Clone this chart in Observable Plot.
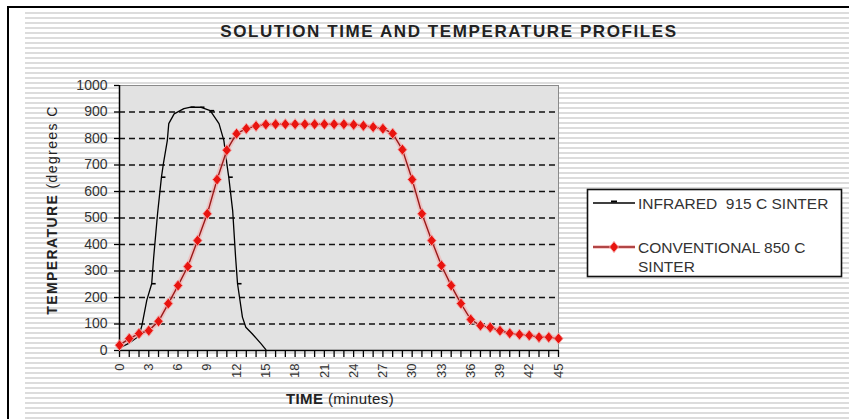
<!DOCTYPE html>
<html>
<head>
<meta charset="utf-8">
<script src="https://cdn.jsdelivr.net/npm/d3@7"></script>
<script src="https://cdn.jsdelivr.net/npm/@observablehq/plot@0.6"></script>
<style>
  html, body { margin: 0; padding: 0; background: #fff; }
  #wrap { position: relative; width: 849px; height: 419px; background: #fff; overflow: hidden; }
  #stripes { position: absolute; left: 25px; top: 9px; right: 0; bottom: 0;
    background: repeating-linear-gradient(to bottom, #ffffff 0px, #ffffff 3px, #dcdcdc 3px, #dcdcdc 5px); }
  #wrap svg { position: absolute; left: 0; top: 0; }
</style>
</head>
<body>
<div id="wrap"><div id="stripes"></div></div>
<script>
// ---- data ----
const conventionalTime = [0,1,2,3,4,5,6,7,8,9,10,11,12,13,14,15,16,17,18,19,20,21,22,23,24,25,26,27,28,29,30,31,32,33,34,35,36,37,38,39,40,41,42,43,44,45];
const conventionalTemp = [20,45,64,75,110,177,245,317,415,516,645,756,818,837,847,853,854,854,854,854,854,854,854,854,852,848,843,837,819,758,645,516,415,321,245,177,117,94,87,75,65,60,57,50,50,45];

const infraredTime = [0,1,2,2.3,2.8,3.3,3.5,3.9,4.3,4.5,4.9,5.05,5.6,6.6,7.3,8.3,9.3,10.2,10.7,11.05,11.2,11.6,11.9,12.1,12.6,12.95,13.6,14.5,15];
const infraredTemp = [10,28,55,95,190,252,350,516,654,705,792,856,893,913,918,918,905,856,792,692,654,528,352,252,126,88,63,26,3];
const infraredMarkerTime = [3.3,4.3,7.3,8.3,9.3,11.2,12.1];
const infraredMarkerTemp = [252,654,918,918,905,654,252];

const xTickMinutes = [0,1,2,3,4,5,6,7,8,9,10,11,12,13,14,15,16,17,18,19,20,21,22,23,24,25,26,27,28,29,30,31,32,33,34,35,36,37,38,39,40,41,42,43,44,45];
const xTickLabels = [0,3,6,9,12,15,18,21,24,27,30,33,36,39,42,45];
const yTickLabels = [0,100,200,300,400,500,600,700,800,900,1000];
const yGridValues = [100,200,300,400,500,600,700,800,900];

const chartTitle = "SOLUTION TIME AND TEMPERATURE PROFILES";
const seriesNames = ["INFRARED  915 C SINTER", "CONVENTIONAL 850 C", "SINTER"];

// ---- tables ----
const conventional = conventionalTime.map((t, i) => ({t, v: conventionalTemp[i]}));
const infrared = infraredTime.map((t, i) => ({t, v: infraredTemp[i]}));
const infraredMarkers = infraredMarkerTime.map((t, i) => ({t, v: infraredMarkerTemp[i]}));

const diamondSym = { draw(ctx) { ctx.moveTo(0, -5.5); ctx.lineTo(4.5, 0); ctx.lineTo(0, 5.5); ctx.lineTo(-4.5, 0); ctx.closePath(); } };
const dashSym = { draw(ctx) { ctx.moveTo(0, 0); ctx.lineTo(4, 0); } };

const font = "'Liberation Sans', Arial, sans-serif";

const chart = Plot.plot({
  width: 849, height: 419,
  marginLeft: 119, marginRight: 291, marginTop: 85, marginBottom: 69,
  x: { domain: [0, 45] },
  y: { domain: [0, 1000] },
  style: { background: "transparent", fontFamily: font, color: "#222", overflow: "visible" },
  marks: [
    Plot.frame({ fill: "#e2e2e2", stroke: "#8a8a8a", strokeWidth: 1 }),
    Plot.ruleY(yGridValues, { stroke: "#111", strokeWidth: 1.3, strokeDasharray: "6,4" }),
    Plot.axisX(xTickMinutes, { tickSize: 7, tickFormat: () => "", stroke: "#000", strokeWidth: 1.3, label: null }),
    Plot.axisX(xTickLabels, { tickSize: 0, tickPadding: 13, tickRotate: -90, fontSize: 13, fill: "#333", label: null, tickFormat: d3.format("d") }),
    Plot.axisY(yTickLabels, { tickSize: 5, tickPadding: 7, fontSize: 14, fill: "#333", stroke: "#000", strokeWidth: 1.3, label: null, letterSpacing: 0.6, tickFormat: d3.format("d") }),
    Plot.ruleX([0], { stroke: "#000", strokeWidth: 1.5 }),
    Plot.ruleY([0], { stroke: "#000", strokeWidth: 1.5 }),
    Plot.line(infrared, { x: "t", y: "v", stroke: "#000", strokeWidth: 1.3 }),
    Plot.dot(infraredMarkers, { x: "t", y: "v", symbol: dashSym, stroke: "#000", strokeWidth: 1.6, fill: "none" }),
    Plot.line(conventional, { x: "t", y: "v", stroke: "#f2b4b4", strokeWidth: 5, strokeOpacity: 0.7 }),
    Plot.line(conventional, { x: "t", y: "v", stroke: "#9a1a1a", strokeWidth: 1.4 }),
    Plot.dot(conventional, { x: "t", y: "v", symbol: diamondSym, fill: "#e8140f", stroke: "#f6a0a0", strokeWidth: 1 })
  ]
});
document.getElementById("wrap").appendChild(chart);

// ---- overlay: frame, titles, legend ----
const ov = d3.select("#wrap").append("svg").attr("width", 849).attr("height", 419)
  .style("font-family", font);

ov.append("line").attr("x1", 8).attr("x2", 8).attr("y1", 6).attr("y2", 419).attr("stroke", "#000").attr("stroke-width", 2);
ov.append("line").attr("x1", 7).attr("x2", 849).attr("y1", 7).attr("y2", 7).attr("stroke", "#000").attr("stroke-width", 2);

ov.append("text").attr("x", 449).attr("y", 37).attr("text-anchor", "middle")
  .attr("font-size", 17).attr("font-weight", "bold").attr("letter-spacing", 1.6).attr("fill", "#222")
  .text(chartTitle);

const yt = ov.append("text").attr("transform", "translate(57,210) rotate(-90)").attr("text-anchor", "middle")
  .attr("font-size", 14).attr("fill", "#222").attr("letter-spacing", 1.4);
yt.append("tspan").attr("font-weight", "bold").text("TEMPERATURE");
yt.append("tspan").text(" (degrees C");

const xt = ov.append("text").attr("x", 340).attr("y", 404).attr("text-anchor", "middle")
  .attr("font-size", 15).attr("fill", "#222").attr("letter-spacing", 0.4);
xt.append("tspan").attr("font-weight", "bold").text("TIME");
xt.append("tspan").text(" (minutes)");

// legend
const lg = ov.append("g");
lg.append("rect").attr("x", 587.5).attr("y", 189.5).attr("width", 254).attr("height", 87)
  .attr("fill", "#fff").attr("stroke", "#111").attr("stroke-width", 1.6);
lg.append("line").attr("x1", 593).attr("x2", 635).attr("y1", 203).attr("y2", 203).attr("stroke", "#000").attr("stroke-width", 1.3);
lg.append("line").attr("x1", 611).attr("x2", 617).attr("y1", 201.5).attr("y2", 201.5).attr("stroke", "#000").attr("stroke-width", 2);
lg.append("line").attr("x1", 593).attr("x2", 635).attr("y1", 247).attr("y2", 247).attr("stroke", "#f2b4b4").attr("stroke-width", 4).attr("stroke-opacity", 0.7);
lg.append("line").attr("x1", 593).attr("x2", 635).attr("y1", 247).attr("y2", 247).attr("stroke", "#9a1a1a").attr("stroke-width", 1.4);
lg.append("path").attr("transform", "translate(614,247)").attr("d", "M0,-5.5L4.5,0L0,5.5L-4.5,0Z")
  .attr("fill", "#e8140f").attr("stroke", "#f6a0a0");
lg.append("text").attr("x", 638).attr("y", 208.5).attr("font-size", 15.5).attr("fill", "#333")
  .style("white-space", "pre").attr("xml:space", "preserve").text(seriesNames[0]);
lg.append("text").attr("x", 638).attr("y", 252.5).attr("font-size", 15.5).attr("fill", "#333").text(seriesNames[1]);
lg.append("text").attr("x", 638).attr("y", 271.5).attr("font-size", 15.5).attr("fill", "#333").text(seriesNames[2]);
</script>
</body>
</html>
